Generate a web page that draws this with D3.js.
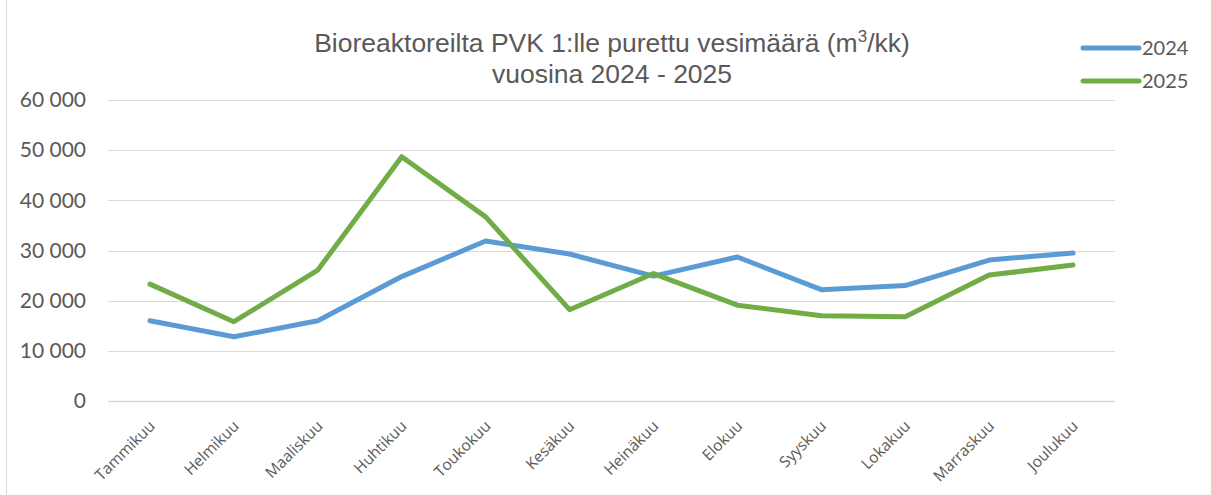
<!DOCTYPE html>
<html>
<head>
<meta charset="utf-8">
<script src="https://cdn.jsdelivr.net/npm/d3@7"></script>
<style>
  body { margin: 0; background: #fff; }
  text { fill: #595959; }
</style>
</head>
<body>
<svg id="chart" width="1211" height="495"></svg>
<script>
var months = ["Tammikuu", "Helmikuu", "Maaliskuu", "Huhtikuu", "Toukokuu", "Kesäkuu",
              "Heinäkuu", "Elokuu", "Syyskuu", "Lokakuu", "Marraskuu", "Joulukuu"];
var values2024 = [16000, 12800, 16000, 24800, 31900, 29300, 24900, 28700, 22200, 23000, 28100, 29500];
var values2025 = [23300, 15800, 26100, 48700, 36700, 18200, 25400, 19100, 17000, 16800, 25100, 27100];
var yTicks = [0, 10000, 20000, 30000, 40000, 50000, 60000];

(function drawChart() {
    var svg = d3.select("#chart"),
        left = 108, right = 1115, top = 100, bottom = 401;

    var x = d3.scaleBand().domain(months).range([left, right]);
    var y = d3.scaleLinear().domain([0, 60000]).range([bottom, top]);

    // chart frame edge on the left
    svg.append("line")
       .attr("x1", 6.5).attr("x2", 6.5)
       .attr("y1", 0).attr("y2", 495)
       .attr("stroke", "#d9d9d9");

    // gridlines
    svg.append("g")
       .selectAll("line")
       .data(yTicks)
       .enter().append("line")
       .attr("x1", left).attr("x2", right)
       .attr("y1", function(d) { return Math.round(y(d)) + 0.5; })
       .attr("y2", function(d) { return Math.round(y(d)) + 0.5; })
       .attr("stroke", "#d9d9d9")
       .attr("stroke-width", function(d) { return d === 0 ? 1.5 : 1.2; });

    // y axis labels
    var fmt = function(d) { return d3.format(",")(d).replace(/,/g, " "); };
    var yAxis = d3.axisLeft(y).tickValues(yTicks).tickFormat(fmt).tickSize(0).tickPadding(0);
    var ya = svg.append("g").attr("transform", "translate(86,0)").call(yAxis);
    ya.select(".domain").remove();
    ya.selectAll("text")
      .style("font-family", "Lato, 'Open Sans', sans-serif")
      .style("font-size", "21px")
      .style("fill", "#595959");

    // x axis labels
    var xAxis = d3.axisBottom(x).tickSize(0).tickPadding(0);
    var xa = svg.append("g").attr("transform", "translate(0," + bottom + ")").call(xAxis);
    xa.select(".domain").remove();
    xa.selectAll("text")
      .style("font-family", "'Open Sans', sans-serif")
      .style("font-size", "15.5px")
      .style("fill", "#595959")
      .attr("text-anchor", "end")
      .attr("dy", "0")
      .attr("transform", "translate(6,26) rotate(-45)");

    // lines
    var line = d3.line()
                 .x(function(d, i) { return x(months[i]) + x.bandwidth() / 2; })
                 .y(function(d) { return y(d); });

    var series = [
        { name: "2024", values: values2024, color: "#5b9bd5" },
        { name: "2025", values: values2025, color: "#70ad47" }
    ];

    svg.selectAll(".series")
       .data(series)
       .enter().append("path")
       .attr("class", "series")
       .attr("d", function(d) { return line(d.values); })
       .attr("fill", "none")
       .attr("stroke", function(d) { return d.color; })
       .attr("stroke-width", 5)
       .attr("stroke-linecap", "round")
       .attr("stroke-linejoin", "round");

    // title
    var title = svg.append("text")
       .attr("x", 612)
       .attr("text-anchor", "middle")
       .style("font-family", "'Liberation Sans', Arial, sans-serif")
       .style("font-size", "26.5px")
       .style("fill", "#595959");
    var t1 = title.append("tspan").attr("x", 612).attr("y", 52);
    t1.append("tspan").text("Bioreaktoreilta PVK 1:lle purettu vesimäärä (m");
    t1.append("tspan").attr("dy", -10).style("font-size", "17px").text("3");
    t1.append("tspan").attr("dy", 10).text("/kk)");
    title.append("tspan").attr("x", 612).attr("y", 83).text("vuosina 2024 - 2025");

    // legend
    var legend = svg.selectAll(".legend")
       .data(series)
       .enter().append("g")
       .attr("class", "legend")
       .attr("transform", function(d, i) { return "translate(1083," + (48 + i * 33) + ")"; });

    legend.append("line")
       .attr("x1", 0).attr("x2", 56)
       .attr("stroke", function(d) { return d.color; })
       .attr("stroke-width", 5)
       .attr("stroke-linecap", "round");

    legend.append("text")
       .attr("x", 59)
       .attr("y", 7)
       .style("font-family", "Lato, 'Open Sans', sans-serif")
       .style("font-size", "20px")
       .text(function(d) { return d.name; });
}());
</script>
</body>
</html>
